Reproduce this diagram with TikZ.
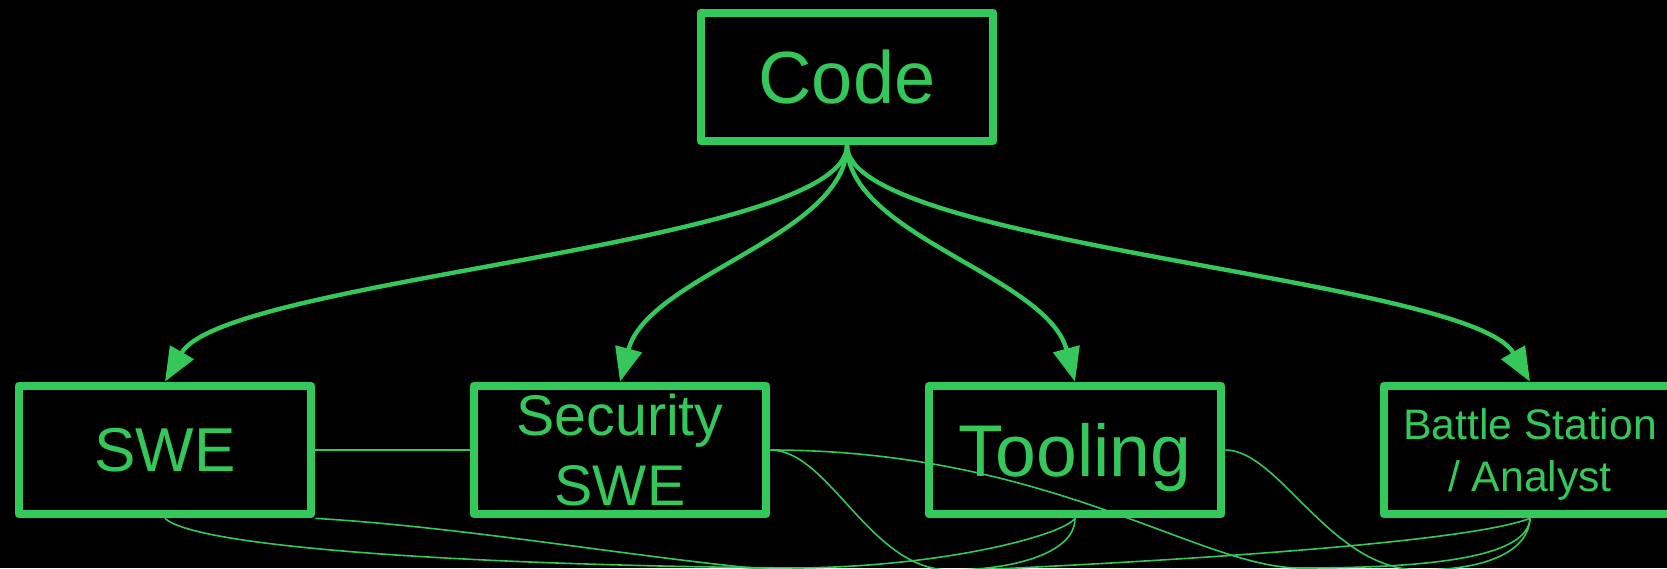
\documentclass[tikz,border=0pt]{standalone}
\usepackage{fontspec}
\setmainfont{Liberation Sans}
\usetikzlibrary{positioning, arrows.meta}
\definecolor{kgreen}{HTML}{34C759}
\tikzset{
  >={Triangle[length=25.5pt, width=20pt]},
  node distance=341.25pt,
  box/.style={draw=kgreen, line width=6pt, line join=round, text=kgreen,
    minimum width=219.5pt, minimum height=96.5pt, inner sep=0pt,
    align=center, text depth=0pt},
  flow/.style={->, draw=kgreen, line width=3.3pt},
  link/.style={draw=kgreen, line width=1.2pt},
}

\begin{document}
\begin{tikzpicture}[x=0.75pt, y=-0.75pt]
  \useasboundingbox (0,0) rectangle (1667,568);
  \fill[black] (0,0) rectangle (1667,568);
  \clip (0,0) rectangle (1667,568);

  \node[box, font=\fontsize{55.5}{60}\selectfont] (code) at (847,77) {Code};
  \node[box, font=\fontsize{46.5}{50}\selectfont] (swe) at (165,450) {SWE};
  \node[box, right of=swe, font=\fontsize{43}{52.5}\selectfont] (sec) {Security\\SWE};
  \node[box, right of=sec, font=\fontsize{55}{60}\selectfont] (tool) {Tooling};
  \node[box, right of=tool, font=\fontsize{32}{39}\selectfont] (bat) {Battle Station\\/ Analyst};

  % low points of the thin links
  \coordinate (dipa) at (800,568);
  \coordinate (dipb) at (850,575);
  \coordinate (dipc) at (950,570);
  \coordinate (dipd) at (1300,568);
  \coordinate (dipe) at (1420,570);

  \draw[flow] (code.south) .. controls +(0,100) and +(60,-104) .. (swe.north);
  \draw[flow] (code.south) .. controls +(0,90) and +(28,-106) .. (sec.north);
  \draw[flow] (code.south) .. controls +(0,90) and +(-28,-106) .. (tool.north);
  \draw[flow] (code.south) .. controls +(0,100) and +(-60,-104) .. (bat.north);

  \draw[link] (swe.east) -- (sec.west);
  \draw[link] (swe.south) .. controls +(33,31) and +(-300,-2) .. (dipa)
                          .. controls +(150,-2) and +(-11,16) .. (tool.south);
  \draw[link] (swe.south east) .. controls +(184,11) and +(-150,-5) .. (dipb)
                               .. controls +(150,-5) and +(-80,31) .. (bat.south);
  \draw[link] (sec.east) .. controls +(59,0) and +(-80,0) .. (dipc)
                         .. controls +(60,0) and +(0,36) .. (tool.south);
  \draw[link] (sec.east) .. controls +(279,0) and +(-100,0) .. (dipd)
                         .. controls +(120,0) and +(-2,41) .. (bat.south);
  \draw[link] (tool.east) .. controls +(54,0) and +(-90,0) .. (dipe)
                          .. controls +(60,0) and +(-2,36) .. (bat.south);
\end{tikzpicture}
\end{document}
